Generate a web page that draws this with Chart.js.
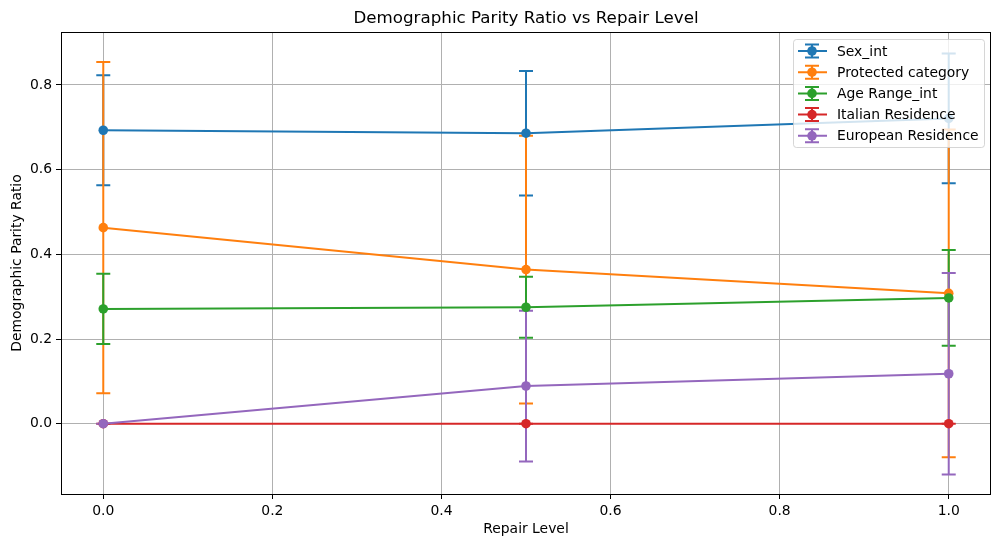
<!DOCTYPE html>
<html>
<head>
<meta charset="utf-8">
<script src="https://cdn.jsdelivr.net/npm/chart.js@4.4.1/dist/chart.umd.min.js"></script>
<style>
  html, body { margin: 0; padding: 0; background: #fff; }
  #wrap { width: 1001px; height: 547px; }
</style>
</head>
<body>
<div id="wrap"><canvas id="parityChart" width="1001" height="547"></canvas></div>
<script>
// x positions (repair level)
const repairLevels = [0.0, 0.5, 1.0];
const xTicks = [0.0, 0.2, 0.4, 0.6, 0.8, 1.0];
const yTicks = [0.0, 0.2, 0.4, 0.6, 0.8];

const seriesNames = ['Sex_int', 'Protected category', 'Age Range_int', 'Italian Residence', 'European Residence'];
const seriesColors = ['#1f77b4', '#ff7f0e', '#2ca02c', '#d62728', '#9467bd'];

// mean values and error (+/-)
const sexIntMean = [0.693, 0.686, 0.721];
const sexIntErr = [0.130, 0.147, 0.153];
const protectedMean = [0.463, 0.364, 0.308];
const protectedErr = [0.391, 0.316, 0.387];
const ageRangeMean = [0.271, 0.275, 0.297];
const ageRangeErr = [0.083, 0.072, 0.113];
const italianMean = [0.0, 0.0, 0.0];
const italianErr = [0.0, 0.0, 0.0];
const europeanMean = [0.0, 0.089, 0.118];
const europeanErr = [0.0, 0.178, 0.238];

const allMeans = [sexIntMean, protectedMean, ageRangeMean, italianMean, europeanMean];
const allErrs = [sexIntErr, protectedErr, ageRangeErr, italianErr, europeanErr];

const FONT = "'DejaVu Sans', sans-serif";
const CAP = 7;
const LW = 2;

// error bars go under every line and marker
const errorBarPlugin = {
    id: 'errorBars',
    beforeDatasetsDraw(chart) {
        const ctx = chart.ctx;
        const xs = chart.scales.x, ys = chart.scales.y;
        ctx.save();
        ctx.lineWidth = LW;
        allMeans.forEach((means, i) => {
            ctx.strokeStyle = seriesColors[i];
            means.forEach((m, j) => {
                const px = xs.getPixelForValue(repairLevels[j]);
                const top = ys.getPixelForValue(m + allErrs[i][j]);
                const bot = ys.getPixelForValue(m - allErrs[i][j]);
                ctx.beginPath();
                ctx.moveTo(px, top); ctx.lineTo(px, bot);
                ctx.moveTo(px - CAP, top); ctx.lineTo(px + CAP, top);
                ctx.moveTo(px - CAP, bot); ctx.lineTo(px + CAP, bot);
                ctx.stroke();
            });
        });
        ctx.restore();
    }
};

// frame, titles and legend
const decorPlugin = {
    id: 'decor',
    afterDraw(chart) {
        const ctx = chart.ctx;
        const a = chart.chartArea;
        ctx.save();
        ctx.strokeStyle = '#000';
        ctx.lineWidth = 1;
        ctx.strokeRect(Math.round(a.left) + 0.5, Math.round(a.top) + 0.5,
            Math.round(a.right - a.left) - 1, Math.round(a.bottom - a.top));

        ctx.fillStyle = '#000';
        ctx.textAlign = 'center';
        ctx.textBaseline = 'alphabetic';
        ctx.font = '16.7px ' + FONT;
        ctx.fillText('Demographic Parity Ratio vs Repair Level', (a.left + a.right) / 2, 23);

        ctx.font = '13.9px ' + FONT;
        ctx.fillText('Repair Level', (a.left + a.right) / 2, 533);
        ctx.save();
        ctx.translate(21, (a.top + a.bottom) / 2);
        ctx.rotate(-Math.PI / 2);
        ctx.fillText('Demographic Parity Ratio', 0, 0);
        ctx.restore();

        // legend box
        const lx = 793.5, ly = 39.5, lw = 191, lh = 108;
        ctx.globalAlpha = 0.8;
        ctx.fillStyle = '#fff';
        ctx.strokeStyle = '#cccccc';
        ctx.beginPath();
        ctx.roundRect(lx, ly, lw, lh, 3);
        ctx.fill();
        ctx.stroke();
        ctx.globalAlpha = 1;

        seriesNames.forEach((name, i) => {
            const cy = 51 + i * 21.2;
            const c = seriesColors[i];
            ctx.strokeStyle = c;
            ctx.fillStyle = c;
            ctx.lineWidth = LW;
            ctx.beginPath();
            ctx.moveTo(798, cy); ctx.lineTo(827, cy);
            ctx.moveTo(812, cy - 6.5); ctx.lineTo(812, cy + 6.5);
            ctx.moveTo(812 - CAP, cy - 6.5); ctx.lineTo(812 + CAP, cy - 6.5);
            ctx.moveTo(812 - CAP, cy + 6.5); ctx.lineTo(812 + CAP, cy + 6.5);
            ctx.stroke();
            ctx.beginPath();
            ctx.arc(812, cy, 4.8, 0, Math.PI * 2);
            ctx.fill();
            ctx.fillStyle = '#000';
            ctx.textAlign = 'left';
            ctx.textBaseline = 'middle';
            ctx.font = '13.9px ' + FONT;
            ctx.fillText(name, 837, cy + 1);
        });
        ctx.restore();
    }
};

const datasets = seriesNames.map((name, i) => ({
    label: name,
    data: repairLevels.map((x, j) => ({ x: x, y: allMeans[i][j] })),
    borderColor: seriesColors[i],
    backgroundColor: seriesColors[i],
    borderWidth: LW,
    pointRadius: 4.8,
    pointBorderWidth: 0,
    pointBackgroundColor: seriesColors[i],
    tension: 0,
    order: seriesNames.length - 1 - i
}));

new Chart(document.getElementById('parityChart'), {
    type: 'line',
    data: { datasets: datasets },
    options: {
        responsive: false,
        animation: false,
        devicePixelRatio: 1,
        layout: { padding: { left: 0, top: 32, right: 10, bottom: 0 } },
        plugins: { legend: { display: false }, tooltip: { enabled: false } },
        scales: {
            x: {
                type: 'linear',
                min: -0.05,
                max: 1.05,
                afterBuildTicks(scale) { scale.ticks = xTicks.map(v => ({ value: v })); },
                afterFit(scale) { scale.height = 53; },
                ticks: {
                    color: '#000',
                    font: { family: FONT, size: 13.9 },
                    padding: 4,
                    maxRotation: 0,
                    callback: v => v.toFixed(1)
                },
                grid: { color: '#b0b0b0', lineWidth: 1, tickColor: '#000', tickLength: 5 },
                border: { display: false }
            },
            y: {
                type: 'linear',
                min: -0.166,
                max: 0.925,
                afterBuildTicks(scale) { scale.ticks = yTicks.map(v => ({ value: v })); },
                afterFit(scale) { scale.width = 61; },
                ticks: {
                    color: '#000',
                    font: { family: FONT, size: 13.9 },
                    padding: 4,
                    callback: v => v.toFixed(1)
                },
                grid: { color: '#b0b0b0', lineWidth: 1, tickColor: '#000', tickLength: 5 },
                border: { display: false }
            }
        }
    },
    plugins: [errorBarPlugin, decorPlugin]
});
</script>
</body>
</html>
